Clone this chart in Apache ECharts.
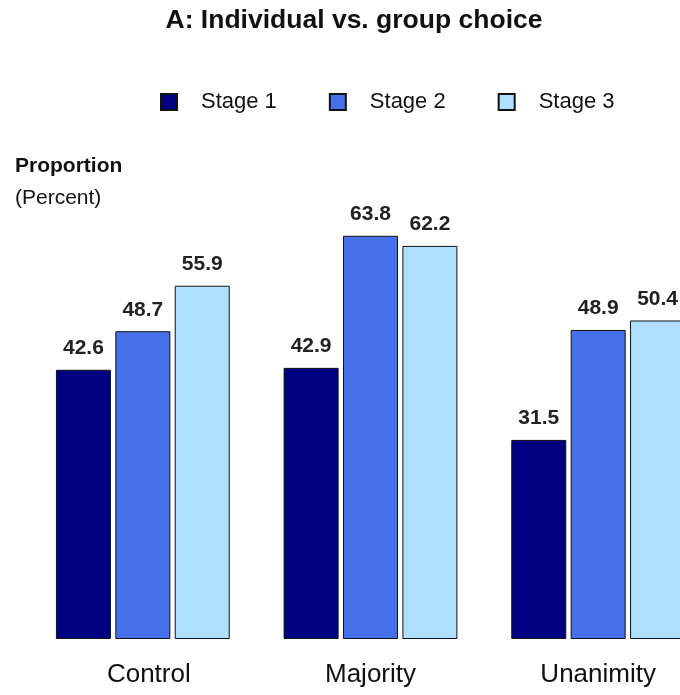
<!DOCTYPE html>
<html>
<head>
<meta charset="utf-8">
<title>A: Individual vs. group choice</title>
<script src="https://cdn.jsdelivr.net/npm/echarts@6/dist/echarts.min.js"></script>
<style>
  html, body { margin: 0; padding: 0; background: #fff; }
  #chart { width: 680px; height: 695px; }
</style>
</head>
<body>
<div id="chart"></div>
<script>
// Decision rule treatments and the share choosing at each stage (percent)
const categories = ['Control', 'Majority', 'Unanimity'];
const stageNames = ['Stage 1', 'Stage 2', 'Stage 3'];
const stage1 = [42.6, 42.9, 31.5];
const stage2 = [48.7, 63.8, 48.9];
const stage3 = [55.9, 62.2, 50.4];

const FONT = '"Liberation Sans", Arial, Helvetica, sans-serif';
const colors = ['#000080', '#4570EA', '#B0E0FF'];

const chart = echarts.init(document.getElementById('chart'), null, { renderer: 'canvas' });

function barSeries(name, data, color) {
  return {
    name: name,
    type: 'bar',
    data: data,
    barWidth: 55,
    barGap: '8%',
    itemStyle: { color: color, borderColor: '#111', borderWidth: 1 },
    label: {
      show: true,
      position: 'top',
      distance: 11,
      fontFamily: FONT,
      fontSize: 21,
      fontWeight: 'bold',
      color: '#222',
      formatter: p => p.value.toFixed(1)
    },
    emphasis: { disabled: true }
  };
}

chart.setOption({
  animation: false,
  backgroundColor: '#fff',
  color: colors,
  graphic: [
    {
      type: 'text', x: 354, y: 21,
      style: {
        text: 'A: Individual vs. group choice',
        font: 'bold 26.5px ' + FONT, fill: '#111',
        textAlign: 'center', textVerticalAlign: 'middle'
      }
    },
    {
      type: 'text', x: 15, y: 166,
      style: {
        text: 'Proportion',
        font: 'bold 21px ' + FONT, fill: '#111',
        textAlign: 'left', textVerticalAlign: 'middle'
      }
    },
    {
      type: 'text', x: 15, y: 198,
      style: {
        text: '(Percent)',
        font: '21px ' + FONT, fill: '#111',
        textAlign: 'left', textVerticalAlign: 'middle'
      }
    }
  ],
  legend: {
    data: stageNames,
    left: 160,
    top: 91,
    padding: 0,
    icon: 'rect',
    itemWidth: 16,
    itemHeight: 16,
    itemGap: 52,
    selectedMode: false,
    textStyle: {
      fontFamily: FONT,
      fontSize: 22,
      color: '#111',
      padding: [0, 0, 0, 19]
    }
  },
  // The plot area runs past the right edge, so the last group is clipped
  grid: {
    left: 29, right: -32, top: 7, bottom: 56,
    containLabel: false,
    outerBoundsMode: 'none'
  },
  xAxis: {
    type: 'category',
    data: categories,
    axisLine: { show: false },
    axisTick: { show: false },
    axisLabel: {
      interval: 0,
      margin: 23,
      fontFamily: FONT,
      fontSize: 26,
      color: '#111',
      formatter: v => v === 'Control' ? '{shift|' + v + '}' : '{plain|' + v + '}',
      rich: {
        plain: { fontFamily: FONT, fontSize: 26, color: '#111' },
        shift: { fontFamily: FONT, fontSize: 26, color: '#111', padding: [0, 0, 0, 12] }
      }
    }
  },
  yAxis: {
    type: 'value',
    min: 0,
    max: 100,
    show: false,
    splitLine: { show: false }
  },
  series: [
    barSeries(stageNames[0], stage1, colors[0]),
    barSeries(stageNames[1], stage2, colors[1]),
    barSeries(stageNames[2], stage3, colors[2])
  ]
});
</script>
</body>
</html>
